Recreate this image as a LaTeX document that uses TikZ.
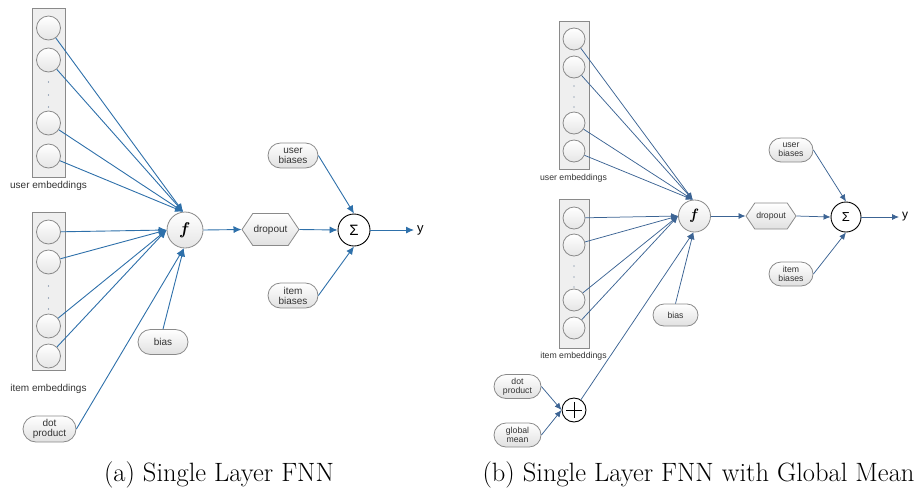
\documentclass[tikz,border=0pt]{standalone}
\usepackage{fontspec}
\newfontfamily\lab{Liberation Sans}
\usetikzlibrary{shapes.misc,shapes.symbols,arrows.meta,calc}
\definecolor{arrA}{HTML}{2E70AA}
\definecolor{arrB}{HTML}{3C6494}
\definecolor{bord}{HTML}{8A8A8A}
\definecolor{txt}{HTML}{333333}
\definecolor{boxfill}{HTML}{EFEFEF}
\begin{document}
\begin{tikzpicture}[x=1pt,y=-1pt,
  embbox/.style={draw=bord,fill=boxfill,line width=0.8pt,rectangle,inner sep=0pt},
  unit/.style={draw=bord,circle,top color=white,bottom color=black!10,line width=0.8pt,inner sep=0pt,minimum size=#1},
  pill/.style={draw=bord,rounded rectangle,top color=white,bottom color=black!12,line width=0.8pt,inner sep=1pt,align=center,text=txt,font=\lab\fontsize{#1}{#1}\selectfont},
  hexa/.style={draw=bord,signal,signal to=west and east,signal pointer angle=112,top color=white,bottom color=black!12,line width=0.8pt,inner sep=0pt,text=txt,font=\lab\fontsize{#1}{#1}\selectfont},
  fnode/.style={draw=bord,circle,top color=white,bottom color=black!10,line width=0.8pt,inner sep=0pt,minimum size=#1},
  opnode/.style={draw=black,circle,fill=white,line width=0.9pt,inner sep=0pt,minimum size=#1},
  elab/.style={text=txt,font=\lab\fontsize{#1}{#1}\selectfont,inner sep=0pt},
  ylab/.style={text=black,font=\lab\fontsize{#1}{#1}\selectfont,inner sep=3pt,anchor=west},
  dotm/.style={fill=arrB!60!gray},
  cona/.style={draw=arrA,line width=0.9pt,-{Latex[length=8pt,width=7pt]}},
  conb/.style={draw=arrB,line width=0.75pt,-{Latex[length=7pt,width=6pt]}},
  capt/.style={font=\fontsize{26.5}{30}\selectfont,inner sep=0pt}
]
\useasboundingbox (0,0) rectangle (915,491);

% ================= panel (a) =================
\node[embbox,minimum width=33pt,minimum height=169pt] (aub) at (48.5,92.5) {};
\foreach \i/\yy in {1/28,2/60,3/123,4/156}
  \node[unit=24pt] (au\i) at (48.5,\yy) {};
\foreach \yy in {82,95,107} \fill[dotm] (48.5,\yy) circle (0.7pt);
\node[elab=10] (aul) at (48.5,186) {user embeddings};

\node[embbox,minimum width=33pt,minimum height=158pt] (aib) at (48.5,291) {};
\foreach \i/\yy in {1/232,2/262,3/326,4/356}
  \node[unit=24pt] (ai\i) at (48.5,\yy) {};
\foreach \yy in {286,298,309} \fill[dotm] (48.5,\yy) circle (0.7pt);
\node[elab=10] (ail) at (48.5,389) {item embeddings};

\node[pill=10,minimum width=55pt,minimum height=26pt] (adp) at (49.5,429) {dot\\product};
\node[fnode=36pt] (af) at (185,230) {\fontsize{17}{17}\selectfont\textbf{\textit{f}}};
\node[pill=10,minimum width=52pt,minimum height=25pt] (abias) at (163,342) {bias};
\node[hexa=10,minimum width=57pt,minimum height=32pt] (adrop) at (270.5,229.5) {dropout};
\node[opnode=32pt] (asum) at (354,230) {\lab\fontsize{15}{15}\selectfont Σ};
\node[ylab=13] (ay) at (414,230) {y};
\node[pill=10,minimum width=52pt,minimum height=25pt] (aubias) at (293,155.5) {user\\biases};
\node[pill=10,minimum width=52pt,minimum height=25pt] (aibias) at (293,295.5) {item\\biases};

\foreach \i in {1,...,4} \draw[cona] (au\i) -- (af.96);
\foreach \i in {1,...,4} \draw[cona] (ai\i) -- (af.west);
\draw[cona] (abias.north) -- (af.266);
\draw[cona] (adp.east) -- (af.266);
\draw[cona] (af.east) -- (adrop.west);
\draw[cona] (adrop.east) -- (asum.west);
\draw[cona] (aubias.east) -- (asum.north);
\draw[cona] (aibias.east) -- (asum.south);
\draw[cona] (asum.east) -- (ay.west);

% ================= panel (b) =================
\node[embbox,minimum width=30pt,minimum height=148pt] (bub) at (574,95) {};
\foreach \i/\yy in {1/39,2/67,3/123,4/151}
  \node[unit=22pt] (bu\i) at (574,\yy) {};
\foreach \yy in {86,97,107} \fill[dotm] (574,\yy) circle (0.6pt);
\node[elab=8.7] (bul) at (573.5,178) {user embeddings};

\node[embbox,minimum width=30pt,minimum height=149pt] (bib) at (574,273.5) {};
\foreach \i/\yy in {1/218,2/245,3/300,4/328}
  \node[unit=22pt] (bi\i) at (574,\yy) {};
\foreach \yy in {266,277,287} \fill[dotm] (574,\yy) circle (0.6pt);
\node[elab=8.7] (bil) at (573.5,356) {item embeddings};

\node[pill=8.7,minimum width=49pt,minimum height=24pt] (bdp) at (517.5,386.5) {dot\\product};
\node[pill=8.7,minimum width=49pt,minimum height=24pt] (bgm) at (517.5,435) {global\\mean};
\node[opnode=24pt] (bplus) at (574,410) {};
\draw[black,line width=0.9pt] ($(bplus.center)+(-8,0)$) -- ($(bplus.center)+(8,0)$)
  ($(bplus.center)+(0,-8)$) -- ($(bplus.center)+(0,8)$);
\node[fnode=32pt] (bf) at (694.5,216) {\fontsize{15}{15}\selectfont\textbf{\textit{f}}};
\node[pill=8.7,minimum width=47pt,minimum height=22pt] (bbias) at (675.5,315) {bias};
\node[hexa=8.7,minimum width=50pt,minimum height=26pt] (bdrop) at (771,216) {dropout};
\node[opnode=30pt] (bsum) at (846,217) {\lab\fontsize{13}{13}\selectfont Σ};
\node[ylab=12] (by) at (899,217) {y};
\node[pill=8.7,minimum width=46pt,minimum height=24pt] (bubias) at (791,150) {user\\biases};
\node[pill=8.7,minimum width=46pt,minimum height=24pt] (bibias) at (791,274) {item\\biases};

\foreach \i in {1,...,4} \draw[conb] (bu\i) -- (bf.96);
\foreach \i in {1,...,4} \draw[conb] (bi\i) -- (bf.west);
\draw[conb] (bbias.north) -- (bf.266);
\draw[conb] (bplus) -- (bf.266);
\draw[conb] (bdp.east) -- (bplus.west);
\draw[conb] (bgm.east) -- (bplus.west);
\draw[conb] (bf.east) -- (bdrop.west);
\draw[conb] (bdrop.east) -- (bsum.west);
\draw[conb] (bubias.east) -- (bsum.north);
\draw[conb] (bibias.east) -- (bsum.south);
\draw[conb] (bsum.east) -- (by.west);

% captions
\node[capt] (capa) at (219,475) {(a) Single Layer FNN};
\node[capt] (capb) at (698.5,475) {(b) Single Layer FNN with Global Mean};
\end{tikzpicture}
\end{document}
